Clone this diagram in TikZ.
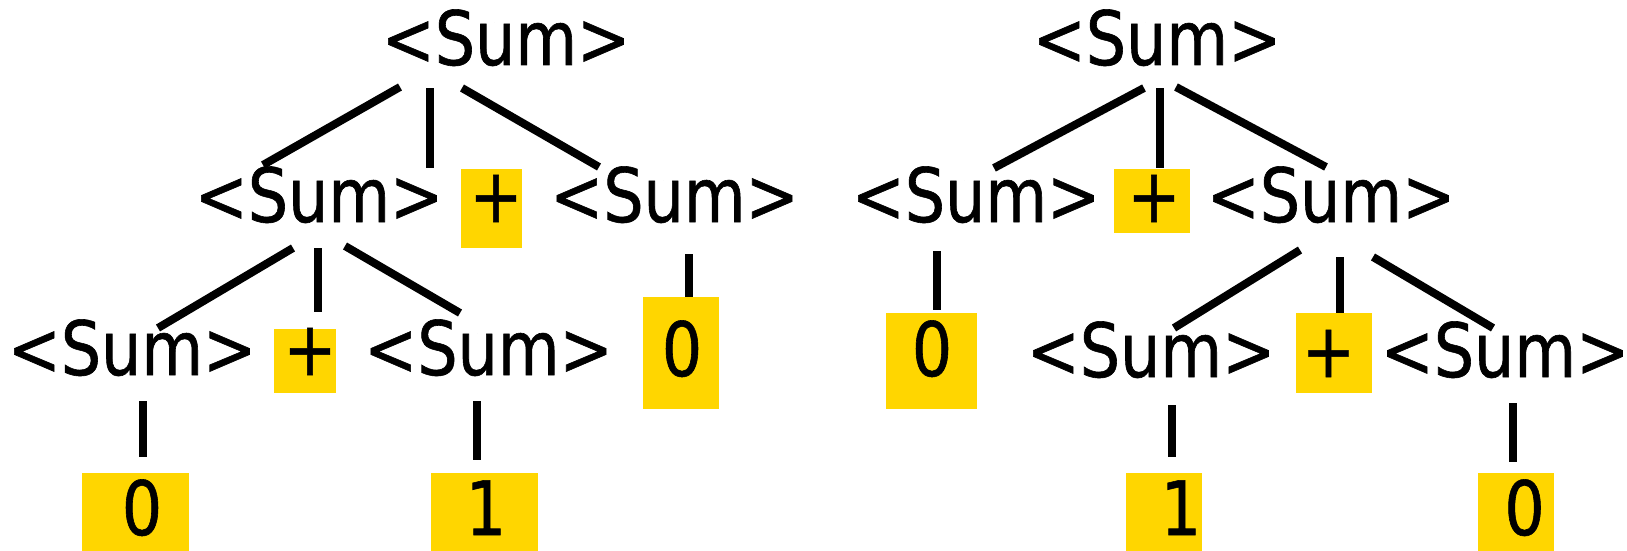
\documentclass[tikz,border=0pt]{standalone}
\usepackage{fontspec}
\setmainfont[FakeStretch=0.94,FakeBold=0.8]{DejaVu Sans Condensed}
\definecolor{termyellow}{RGB}{255,214,0}
\begin{document}
\begin{tikzpicture}[x=1pt,y=-1pt,
  sym/.style={inner sep=0pt, anchor=base, font=\fontsize{75}{90}\selectfont},
  tbox/.style={fill=termyellow, inner sep=0pt, draw=none},
  edge/.style={line width=8pt, black}]
\useasboundingbox (0,0) rectangle (1627,551);
% ---------- yellow terminal boxes ----------
\node[tbox, minimum width=61pt, minimum height=79pt]  (bP1) at (491.5,208.5) {};
\node[tbox, minimum width=62pt, minimum height=64pt]  (bP2) at (305,361) {};
\node[tbox, minimum width=76pt, minimum height=112pt] (bZ1) at (681,353) {};
\node[tbox, minimum width=107pt, minimum height=80pt] (bZ2) at (135.5,513) {};
\node[tbox, minimum width=107pt, minimum height=80pt] (bO1) at (484.5,513) {};
\node[tbox, minimum width=76pt, minimum height=64pt]  (bP3) at (1152,201) {};
\node[tbox, minimum width=91pt, minimum height=96pt]  (bZ3) at (931.5,361) {};
\node[tbox, minimum width=76pt, minimum height=80pt]  (bP4) at (1334,353) {};
\node[tbox, minimum width=76pt, minimum height=80pt]  (bO2) at (1164,513) {};
\node[tbox, minimum width=76pt, minimum height=80pt]  (bZ4) at (1516,513) {};
% ---------- left tree ----------
\node[sym] (t1)  at (506,65)    {<Sum>};
\node[sym] (l2a) at (319,222)   {<Sum>};
\node[sym] (l2b) at (496,222)   {+};
\node[sym] (l2c) at (674.5,222) {<Sum>};
\node[sym] (l3a) at (132,375)   {<Sum>};
\node[sym] (l3b) at (310,375)   {+};
\node[sym] (l3c) at (488.5,375) {<Sum>};
\node[sym] (l3d) at (682,376)   {0};
\node[sym] (l4a) at (142,535)   {0};
\node[sym] (l4b) at (486,535)   {1};
% ---------- right tree ----------
\node[sym] (t2)  at (1157,65)    {<Sum>};
\node[sym] (r2a) at (976,222)    {<Sum>};
\node[sym] (r2b) at (1154,222)   {+};
\node[sym] (r2c) at (1331,222)   {<Sum>};
\node[sym] (r3a) at (932,376)    {0};
\node[sym] (r3b) at (1151,377)   {<Sum>};
\node[sym] (r3c) at (1328.5,377) {+};
\node[sym] (r3d) at (1505,377)   {<Sum>};
\node[sym] (r4a) at (1181,535)   {1};
\node[sym] (r4b) at (1524.5,535) {0};
% ---------- connector end points ----------
\coordinate (d1a) at (400,87);   \coordinate (d1b) at (263,165);
\coordinate (v1a) at (430,88);   \coordinate (v1b) at (430,168);
\coordinate (d2a) at (462,88);   \coordinate (d2b) at (599,167);
\coordinate (d3a) at (293,248);  \coordinate (d3b) at (158,328);
\coordinate (v2a) at (318,248);  \coordinate (v2b) at (318,312);
\coordinate (d4a) at (345,246);  \coordinate (d4b) at (460,313);
\coordinate (v3a) at (689,254);  \coordinate (v3b) at (689,297);
\coordinate (v4a) at (143,401);  \coordinate (v4b) at (143,457);
\coordinate (v5a) at (477,401);  \coordinate (v5b) at (477,460);
\coordinate (d5a) at (1144,88);  \coordinate (d5b) at (994,168);
\coordinate (v6a) at (1160,88);  \coordinate (v6b) at (1160,168);
\coordinate (d6a) at (1176,87);  \coordinate (d6b) at (1326,167);
\coordinate (v7a) at (937,251);  \coordinate (v7b) at (937,310);
\coordinate (d7a) at (1300,250); \coordinate (d7b) at (1174,328);
\coordinate (v8a) at (1340,257); \coordinate (v8b) at (1340,313);
\coordinate (d8a) at (1373,257); \coordinate (d8b) at (1493,328);
\coordinate (v9a) at (1172,405); \coordinate (v9b) at (1172,457);
\coordinate (v10a) at (1513,403); \coordinate (v10b) at (1513,462);
% ---------- connectors ----------
\foreach \e in {d1,v1,d2,d3,v2,d4,v3,v4,v5,d5,v6,d6,v7,d7,v8,d8,v9,v10}
  \draw[edge] (\e a) -- (\e b);
\end{tikzpicture}
\end{document}
